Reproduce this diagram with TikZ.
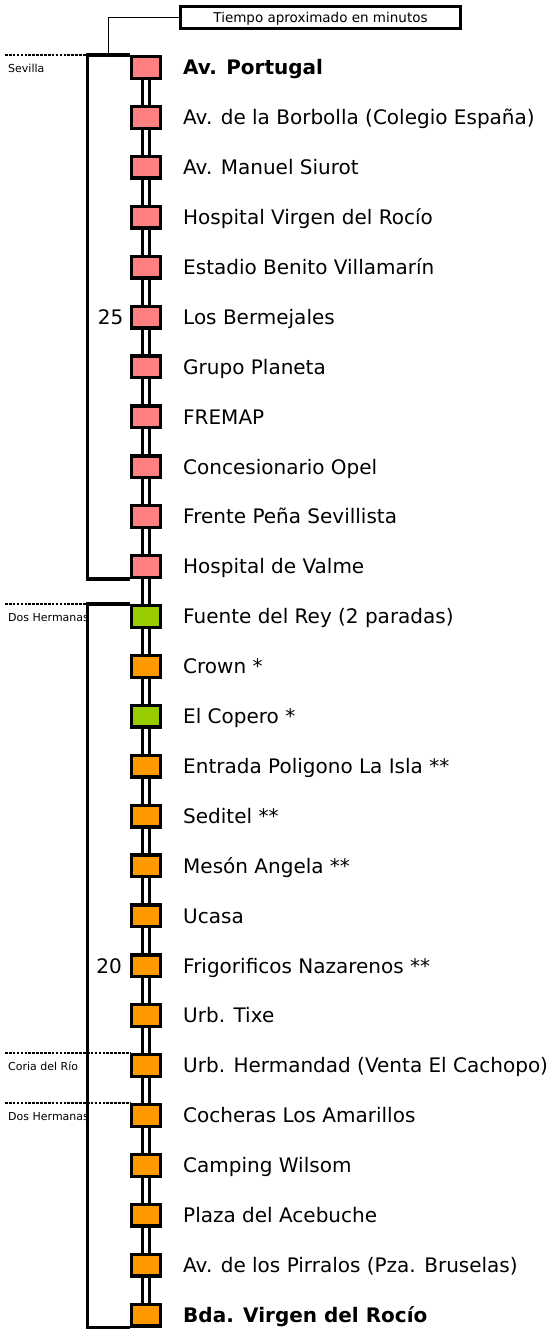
\documentclass[tikz,border=0pt]{standalone}
\usepackage{fontspec}
\setmainfont{DejaVu Sans}
\definecolor{pinkc}{HTML}{FF8080}
\definecolor{greenc}{HTML}{99CC00}
\definecolor{orangec}{HTML}{FF9900}
\pgfdeclarelayer{bg}
\pgfsetlayers{bg,main}
\begin{document}
\begin{tikzpicture}[x=1pt,y=-1pt,
  stopbox/.style={draw=black,line width=3.3pt,minimum width=28.7pt,minimum height=21.7pt,inner sep=0pt},
  rail/.style={draw=black,line width=3.2pt,double=white,double distance=4.2pt},
  bracket/.style={draw=black,line width=3.2pt,line join=miter},
  dots/.style={draw=black,line width=2.8pt,dash pattern=on 2.6pt off 1.3pt},
  thinline/.style={draw=black,line width=1.3pt},
  lbl/.style={anchor=base west,inner sep=0pt,font=\fontsize{20}{24}\selectfont},
  num/.style={anchor=base east,inner sep=0pt,font=\fontsize{20}{24}\selectfont},
  town/.style={anchor=base west,inner sep=0pt,font=\fontsize{11}{13}\selectfont},
  titlebox/.style={draw=black,line width=3.2pt,minimum width=280pt,minimum height=22pt,inner sep=0pt,
    text height=9.8pt,text depth=0pt,font=\fontsize{13.5}{16}\selectfont}]
\useasboundingbox (0,0) rectangle (553,1329);
\begin{pgfonlayer}{bg}
\fill[white] (0,0) rectangle (553,1329);
\end{pgfonlayer}

\foreach \i/\c/\t in {
 1/pinkc/{\textbf{Av. Portugal}},
 2/pinkc/{Av. de la Borbolla (Colegio España)},
 3/pinkc/{Av. Manuel Siurot},
 4/pinkc/{Hospital Virgen del Rocío},
 5/pinkc/{Estadio Benito Villamarín},
 6/pinkc/{Los Bermejales},
 7/pinkc/{Grupo Planeta},
 8/pinkc/{FREMAP},
 9/pinkc/{Concesionario Opel},
 10/pinkc/{Frente Peña Sevillista},
 11/pinkc/{Hospital de Valme},
 12/greenc/{Fuente del Rey (2 paradas)},
 13/orangec/{Crown *},
 14/greenc/{El Copero *},
 15/orangec/{Entrada Poligono La Isla **},
 16/orangec/{Seditel **},
 17/orangec/{Mesón Angela **},
 18/orangec/{Ucasa},
 19/orangec/{Frigorificos Nazarenos **},
 20/orangec/{Urb. Tixe},
 21/orangec/{Urb. Hermandad (Venta El Cachopo)},
 22/orangec/{Cocheras Los Amarillos},
 23/orangec/{Camping Wilsom},
 24/orangec/{Plaza del Acebuche},
 25/orangec/{Av. de los Pirralos (Pza. Bruselas)},
 26/orangec/{\textbf{Bda. Virgen del Rocío}}} {
  \node[stopbox,fill=\c] (s\i) at (146,{67.5+(\i-1)*49.9}) {};
  \node[lbl] (t\i) at (183,{67.5+(\i-1)*49.9+7.3}) {\t};
}

\begin{pgfonlayer}{bg}
\foreach \i [evaluate=\i as \j using int(\i+1)] in {1,...,25}
  \draw[rail] (s\i.south) -- (s\j.north);
\end{pgfonlayer}

\node[num] (n25) at (123.5,{67.5+5*49.9+7.3}) {25};
\node[num] (n20) at (122,{67.5+18*49.9+7.3}) {20};

\coordinate (lx) at (5,0);
\coordinate (brx) at (87.5,0);
\coordinate (tx) at (108.3,0);

% town labels
\node[town] (lsev) at (8,73) {Sevilla};
\begin{scope}
\clip (0,580) rectangle (86,1329);
\node[town] (ldh1) at (8,621.7) {Dos Hermanas};
\node[town] (ldh2) at (8,1120.5) {Dos Hermanas};
\end{scope}
\node[town] (lcor) at (8,1070.5) {Coria del Río};

% brackets
\coordinate (b1) at (brx |- s11.south west);
\coordinate (b2) at (brx |- s26.south west);
\draw[bracket] (s1.north west) -| (b1) -- (s11.south west);
\draw[bracket] (s12.north west) -| (b2) -- (s26.south west);

% dotted boundaries
\coordinate (d1a) at (lx |- s1.north west);
\coordinate (d1b) at (brx |- s1.north west);
\coordinate (d2a) at (lx |- s12.north west);
\coordinate (d2b) at (brx |- s12.north west);
\coordinate (d3a) at (lx |- s21.north west);
\coordinate (d4a) at (lx |- s22.north west);
\draw[dots] (d1a) -- (d1b);
\draw[dots] (d2a) -- (d2b);
\draw[dots] (d3a) -- (s21.north west);
\draw[dots] (d4a) -- (s22.north west);

% title
\node[titlebox] (tbox) at (320.5,17.5) {Tiempo aproximado en minutos};
\coordinate (tl) at (tx |- s1.north west);
\draw[thinline] (tbox.west) -| (tl);
\end{tikzpicture}
\end{document}
